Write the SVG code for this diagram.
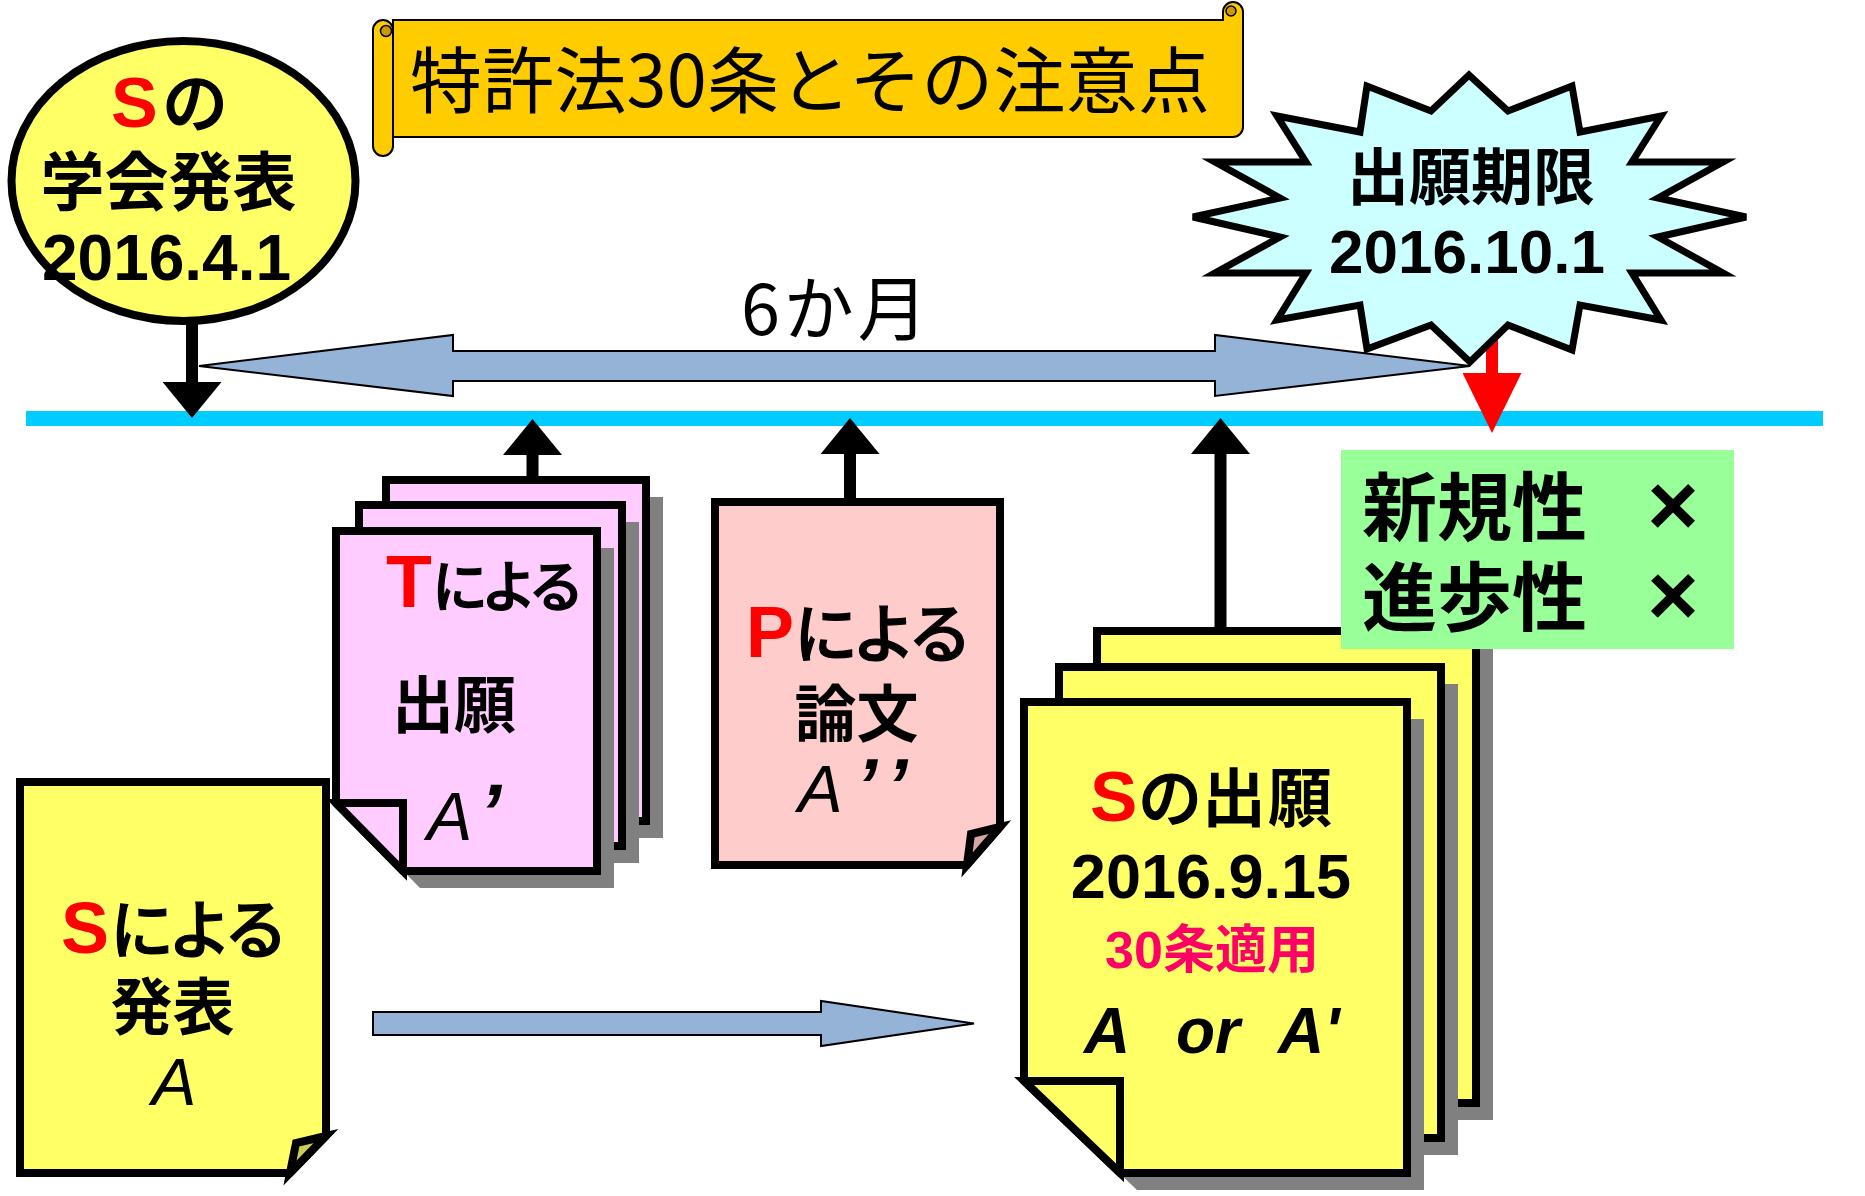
<svg xmlns="http://www.w3.org/2000/svg" width="1865" height="1196" viewBox="0 0 1865 1196">
<defs>
<style>
.pg{stroke:#000;stroke-width:8;stroke-linejoin:miter}
.sh{fill:#808080}
.pink{fill:#FFCCFF}
.yel{fill:#FFFF66}
.sal{fill:#FFCCCC}
.jb{font-family:"Noto Sans CJK JP",sans-serif;font-weight:700}
.jr{font-family:"Noto Sans CJK JP",sans-serif;font-weight:400}
.jm{font-family:"Noto Sans CJK JP",sans-serif;font-weight:500;stroke:#000;stroke-width:1.2}
.lb{font-family:"Liberation Sans",Arial,sans-serif;font-weight:700}
.li{font-family:"Liberation Sans",Arial,sans-serif;font-style:italic}
.red{fill:#FF0000}
.blk{stroke:#000;stroke-width:12;fill:none}
.barrow{fill:#95B3D7;stroke:#000;stroke-width:2;stroke-linejoin:miter}
.scroll{fill:#FFCC00;stroke:#000;stroke-width:2}
.curl{fill:#CC9900;stroke:#000;stroke-width:1.5}
</style>
<marker id="ahk" markerUnits="userSpaceOnUse" markerWidth="36" markerHeight="59" viewBox="0 0 36 59" refX="0" refY="29.5" orient="auto">
<path d="M0,0 L36,29.5 L0,59 Z" fill="#000"/>
</marker>
<marker id="ahr" markerUnits="userSpaceOnUse" markerWidth="60" markerHeight="59" viewBox="0 0 60 59" refX="0" refY="29.5" orient="auto">
<path d="M0,0 L60,29.5 L0,59 Z" fill="#FF0000"/>
</marker>
</defs>
<rect width="1865" height="1196" fill="#fff"/>

<g id="timeline">
<rect x="26" y="411" width="1797" height="15" fill="#00CCFF"/>
</g>

<g id="connectors">
<path class="barrow" d="M199,366 L453,335 L453,351 L1215,351 L1215,335 L1470,366 L1215,396 L1215,381 L453,381 L453,396 Z"/>
<text class="jr" x="741" y="335" font-size="70" letter-spacing="4" fill="#000">6か月</text>
<path class="barrow" d="M373,1012 H821 V1001 L974,1023.5 L821,1046 V1035 H373 Z"/>
<line class="blk" x1="192" y1="318" x2="192" y2="382" marker-end="url(#ahk)"/>
<line class="blk" x1="532.5" y1="482" x2="532.5" y2="455" marker-end="url(#ahk)"/>
<line class="blk" x1="850" y1="504" x2="850" y2="454" marker-end="url(#ahk)"/>
<line class="blk" x1="1220.5" y1="633" x2="1220.5" y2="454" marker-end="url(#ahk)"/>
<line x1="1492" y1="330" x2="1492" y2="373" stroke="#FF0000" stroke-width="12" marker-end="url(#ahr)"/>
</g>

<g id="title-banner">
<path class="scroll" d="M393,20 H1223 V12 A10,10 0 0 1 1243,12 V127 A10,10 0 0 1 1233,137 H393 Z"/>
<circle class="curl" cx="1231" cy="11" r="5"/>
<rect class="scroll" x="373" y="20" width="20" height="136" rx="10" ry="10"/>
<circle class="curl" cx="386" cy="31" r="5.5"/>
<text class="jr" x="410" y="107" font-size="72" textLength="800" lengthAdjust="spacing" fill="#000">特許法30条とその注意点</text>
</g>

<g id="s-presentation-event">
<ellipse cx="183.5" cy="181" rx="172" ry="140" fill="#FFFF66" stroke="#000" stroke-width="8"/>
<text y="127"><tspan class="lb red" x="111" font-size="70">S</tspan><tspan class="jm" x="162" font-size="66">の</tspan></text>
<text class="jb" x="168.5" y="205" font-size="64" text-anchor="middle">学会発表</text>
<text class="lb" x="166.5" y="280" font-size="64" text-anchor="middle">2016.4.1</text>
</g>

<g id="deadline-burst">
<polygon points="1469,75 1508,111 1572,86 1580,132 1661,116 1632,162 1723,162 1658,198 1746,217 1658,237 1723,273 1632,273 1661,320 1580,305 1572,350 1508,325 1470,362 1431,325 1367,349 1360,305 1277,320 1306,273 1215,273 1280,237 1193,217 1280,198 1215,162 1306,162 1277,116 1360,132 1367,86 1431,111" fill="#CCFFFF" stroke="#000" stroke-width="7" stroke-linejoin="miter"/>
<text class="jb" x="1471" y="200" font-size="62" text-anchor="middle">出願期限</text>
<text class="lb" x="1467" y="273" font-size="62" text-anchor="middle">2016.10.1</text>
</g>

<g id="t-application">
<path class="sh" d="M403,497 H663 V838 H470 L403,770 Z"/>
<path class="pg pink" d="M386,480 H646 V821 H453 L386,753 Z"/>
<path class="pg pink" d="M386,753 H453 V821 Z"/>
<path class="sh" d="M376,522 H639 V863 H443 L376,795 Z"/>
<path class="pg pink" d="M359,505 H622 V846 H426 L359,778 Z"/>
<path class="pg pink" d="M359,778 H426 V846 Z"/>
<path class="sh" d="M353,548 H614 V888 H420 L353,820 Z"/>
<path class="pg pink" d="M336,531 H597 V871 H403 L336,803 Z"/>
<path class="pg pink" d="M336,803 H403 V871 Z"/>
<text y="607"><tspan class="lb red" x="386" font-size="75">T</tspan><tspan class="jm" x="432" font-size="56" letter-spacing="-7">による</tspan></text>
<text class="jb" x="454" y="728" font-size="62" text-anchor="middle">出願</text>
<text y="840"><tspan class="li" x="427" font-size="68">A</tspan><tspan class="li" x="479" font-size="80" font-weight="700">’</tspan></text>
</g>

<g id="p-paper">
<path class="pg sal" d="M715,502 H1000 V827 L967,865 H715 Z"/>
<path class="pg" d="M1000,827 L971,834 L967,865 Z" fill="#D9A6A6"/>
<text y="657"><tspan class="lb red" x="746" font-size="72">P</tspan><tspan class="jm" x="794" font-size="64" letter-spacing="-6">による</tspan></text>
<text class="jb" x="856.5" y="737" font-size="62" text-anchor="middle">論文</text>
<text y="812"><tspan class="li" x="798" font-size="67">A</tspan><tspan class="li" x="856" font-size="76" font-weight="700" letter-spacing="12">’’</tspan></text>
</g>

<g id="s-publication">
<path class="pg yel" d="M20,782 H326 V1136 L290,1173 H20 Z"/>
<path class="pg" d="M326,1136 L296,1143 L290,1173 Z" fill="#CCCC55"/>
<text y="953"><tspan class="lb red" x="61" font-size="72">S</tspan><tspan class="jm" x="110" font-size="64" letter-spacing="-6">による</tspan></text>
<text class="jb" x="172.5" y="1030" font-size="62" text-anchor="middle">発表</text>
<text class="li" x="174" y="1105" font-size="67" text-anchor="middle">A</text>
</g>

<g id="s-application">
<path class="sh" d="M1114,648 H1493 V1120 H1210 L1114,1028 Z"/>
<path class="pg yel" d="M1097,631 H1476 V1103 H1193 L1097,1011 Z"/>
<path class="pg yel" d="M1097,1011 H1193 V1103 Z"/>
<path class="sh" d="M1076,684 H1458 V1155 H1172 L1076,1063 Z"/>
<path class="pg yel" d="M1059,667 H1441 V1138 H1155 L1059,1046 Z"/>
<path class="pg yel" d="M1059,1046 H1155 V1138 Z"/>
<path class="sh" d="M1041,719 H1424 V1190 H1137 L1041,1098 Z"/>
<path class="pg yel" d="M1024,702 H1407 V1173 H1120 L1024,1081 Z"/>
<path class="pg yel" d="M1024,1081 H1120 V1173 Z"/>
<text y="821"><tspan class="lb red" x="1090" font-size="71">S</tspan><tspan class="jm" x="1138" font-size="64">の</tspan><tspan class="jb" font-size="64" letter-spacing="2">出願</tspan></text>
<text class="lb" x="1211" y="898" font-size="63" text-anchor="middle">2016.9.15</text>
<text x="1212" y="968" font-size="52" text-anchor="middle" fill="#FF0066"><tspan class="lb">30</tspan><tspan class="jb">条適用</tspan></text>
<text class="lb" y="1053" font-size="64" font-style="italic"><tspan x="1084">A</tspan><tspan x="1176">or</tspan><tspan x="1278">A'</tspan></text>
</g>

<g id="result-box">
<rect x="1341" y="450" width="393" height="199" fill="#99FF99"/>
<text class="jb" x="1362" y="535" font-size="75">新規性</text>
<text class="lb" x="1673" y="535" font-size="88" text-anchor="middle">×</text>
<text class="jb" x="1362" y="625" font-size="75">進歩性</text>
<text class="lb" x="1673" y="625" font-size="88" text-anchor="middle">×</text>
</g>
</svg>
